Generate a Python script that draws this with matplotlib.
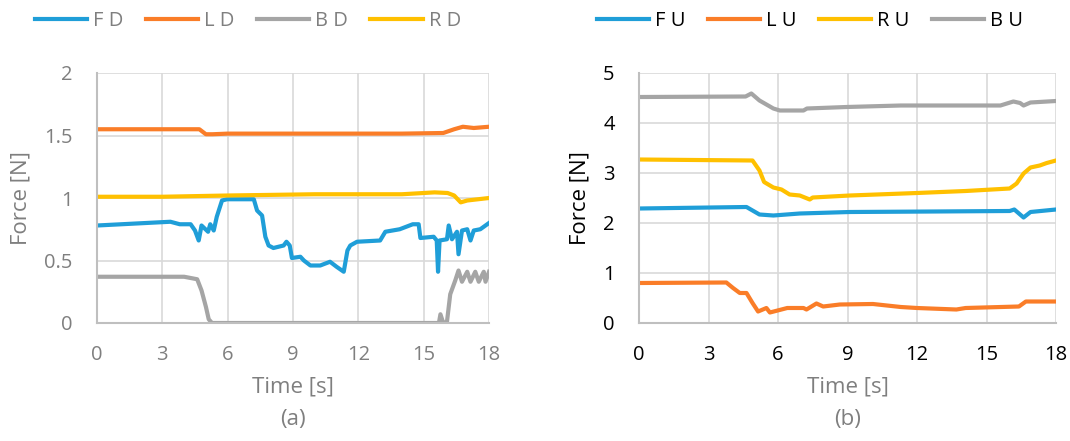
import matplotlib.pyplot as plt

plt.rcParams['font.family'] = ['Open Sans', 'DejaVu Sans']

BLUE = '#1F9ED8'
ORANGE = '#FA7D28'
GRAY = '#A5A5A5'
YELLOW = '#FFC000'
TXT_GRAY = '#7F7F7F'

# --- (a) downward forces ---
t_fd = [0, 3.37, 3.8, 4.3, 4.5, 4.67, 4.8, 5.1, 5.2, 5.36, 5.5, 5.74, 5.97, 7.2, 7.35,
        7.58, 7.73, 7.88, 8.1, 8.57, 8.7, 8.85, 8.95, 9.34, 9.5, 9.8, 10.25, 10.7, 11.0,
        11.33, 11.5, 11.63, 11.94, 13.0, 13.24, 13.9, 14.5, 14.77, 14.85, 15.46, 15.6,
        15.66, 15.73, 16.07, 16.15, 16.3, 16.53, 16.6, 16.76, 17.0, 17.15, 17.3, 17.6, 18.0]
fd = [0.78, 0.81, 0.79, 0.79, 0.74, 0.66, 0.78, 0.73, 0.79, 0.74, 0.85, 0.98, 0.99, 0.99, 0.90,
      0.86, 0.69, 0.62, 0.60, 0.62, 0.65, 0.62, 0.52, 0.53, 0.50, 0.46, 0.46, 0.49, 0.45,
      0.41, 0.58, 0.62, 0.65, 0.66, 0.73, 0.75, 0.79, 0.79, 0.68, 0.69, 0.66,
      0.41, 0.66, 0.67, 0.78, 0.67, 0.73, 0.55, 0.74, 0.75, 0.66, 0.74, 0.75, 0.80]

t_ld = [0, 4.7, 5.0, 5.3, 6.0, 10.0, 14.0, 15.9, 16.4, 16.8, 17.3, 18.0]
ld = [1.55, 1.55, 1.51, 1.51, 1.515, 1.515, 1.515, 1.52, 1.55, 1.57, 1.56, 1.57]

t_bd = [0, 4.0, 4.6, 4.8, 5.0, 5.13, 5.28, 15.7, 15.77, 15.9, 16.07, 16.22, 16.45, 16.6,
        16.76, 17.0, 17.15, 17.37, 17.53, 17.76, 17.84, 18.0]
bd = [0.37, 0.37, 0.35, 0.26, 0.13, 0.03, 0.0, 0.0, 0.07, 0.0, 0.01, 0.23, 0.34, 0.42,
      0.33, 0.41, 0.33, 0.41, 0.33, 0.41, 0.33, 0.41]

t_rd = [0, 3.0, 6.0, 10.0, 14.0, 15.5, 16.1, 16.4, 16.7, 17.0, 18.0]
rd = [1.01, 1.01, 1.02, 1.03, 1.03, 1.045, 1.04, 1.02, 0.965, 0.98, 1.0]

# --- (b) upward forces ---
t_fu = [0, 4.64, 5.2, 5.8, 6.94, 9.1, 12.7, 16.0, 16.2, 16.6, 16.9, 18.0]
fu = [2.29, 2.32, 2.17, 2.15, 2.19, 2.22, 2.23, 2.24, 2.27, 2.11, 2.22, 2.27]

t_lu = [0, 3.77, 4.06, 4.35, 4.64, 4.9, 5.14, 5.5, 5.65, 6.4, 7.1, 7.23, 7.66, 7.95, 8.67,
        10.1, 11.3, 12.0, 13.7, 14.1, 16.4, 16.7, 18.0]
lu = [0.80, 0.81, 0.70, 0.60, 0.60, 0.40, 0.23, 0.30, 0.21, 0.30, 0.30, 0.27, 0.39, 0.33, 0.37,
      0.38, 0.32, 0.30, 0.27, 0.30, 0.33, 0.43, 0.43]

t_ru = [0, 4.9, 5.2, 5.4, 5.8, 6.15, 6.5, 6.94, 7.37, 7.5, 9.1, 12.0, 14.1, 16.0, 16.3,
        16.6, 16.9, 17.3, 17.6, 18.0]
ru = [3.27, 3.25, 3.05, 2.82, 2.71, 2.67, 2.57, 2.55, 2.47, 2.51, 2.55, 2.60, 2.64, 2.69, 2.79,
      2.99, 3.11, 3.15, 3.20, 3.25]

t_bu = [0, 4.6, 4.85, 5.2, 5.8, 6.08, 7.1, 7.25, 8.96, 11.3, 15.6, 16.16, 16.45, 16.6, 16.9, 18.0]
bu = [4.52, 4.53, 4.59, 4.45, 4.29, 4.25, 4.25, 4.29, 4.32, 4.35, 4.35, 4.43, 4.40, 4.35, 4.41, 4.44]

x_ticks = [0, 3, 6, 9, 12, 15, 18]

fig = plt.figure(figsize=(10.7, 4.41), dpi=100)
W, H = 1070, 441
ax_a = fig.add_axes([97 / W, 1 - 323 / H, 392 / W, 250 / H])
ax_b = fig.add_axes([639 / W, 1 - 323 / H, 417 / W, 250 / H])


def style_axes(ax, ymax, ystep, tick_color, ylabel_color):
    ax.set_xlim(0, 18)
    ax.set_ylim(0, ymax)
    ax.set_xticks(x_ticks)
    yt = [i * ystep for i in range(int(round(ymax / ystep)) + 1)]
    ax.set_yticks(yt)
    ax.set_yticklabels([f'{v:g}' for v in yt])
    ax.grid(True, color='#D9D9D9', linewidth=1.2)
    ax.set_axisbelow(True)
    for s in ('top', 'right'):
        ax.spines[s].set_visible(False)
    for s in ('left', 'bottom'):
        ax.spines[s].set_color('#BFBFBF')
        ax.spines[s].set_linewidth(1.5)
    ax.tick_params(length=0, labelsize=14.5, colors=tick_color)
    ax.tick_params(axis='y', pad=17.5)
    ax.tick_params(axis='x', pad=16)
    ax.set_xlabel('Time [s]', fontsize=16, color=TXT_GRAY, labelpad=8)
    ax.set_ylabel('Force [N]', fontsize=16, color=ylabel_color, labelpad=9)


lw = 3
ax_a.plot(t_fd, fd, color=BLUE, lw=lw, label='F D')
ax_a.plot(t_ld, ld, color=ORANGE, lw=lw, label='L D')
ax_a.plot(t_bd, bd, color=GRAY, lw=lw, label='B D')
ax_a.plot(t_rd, rd, color=YELLOW, lw=lw, label='R D')
style_axes(ax_a, 2, 0.5, TXT_GRAY, TXT_GRAY)

ax_b.plot(t_fu, fu, color=BLUE, lw=lw, label='F U')
ax_b.plot(t_lu, lu, color=ORANGE, lw=lw, label='L U')
ax_b.plot(t_ru, ru, color=YELLOW, lw=lw, label='R U')
ax_b.plot(t_bu, bu, color=GRAY, lw=lw, label='B U')
style_axes(ax_b, 5, 1, 'black', 'black')

for ax, cx, col in ((ax_a, 248, TXT_GRAY), (ax_b, 810, 'black')):
    leg = ax.legend(loc='center', bbox_to_anchor=(cx / W, 1 - 21 / H),
                    bbox_transform=fig.transFigure, ncol=4, frameon=False,
                    fontsize=14.5, handlelength=2.6, handletextpad=0.3,
                    columnspacing=1.1, borderpad=0)
    for txt in leg.get_texts():
        txt.set_color(col)

fig.text(293 / W, 1 - 419 / H, '(a)', ha='center', va='center', fontsize=16, color=TXT_GRAY)
fig.text(848 / W, 1 - 419 / H, '(b)', ha='center', va='center', fontsize=16, color=TXT_GRAY)

fig.savefig('out.png', dpi=100)
